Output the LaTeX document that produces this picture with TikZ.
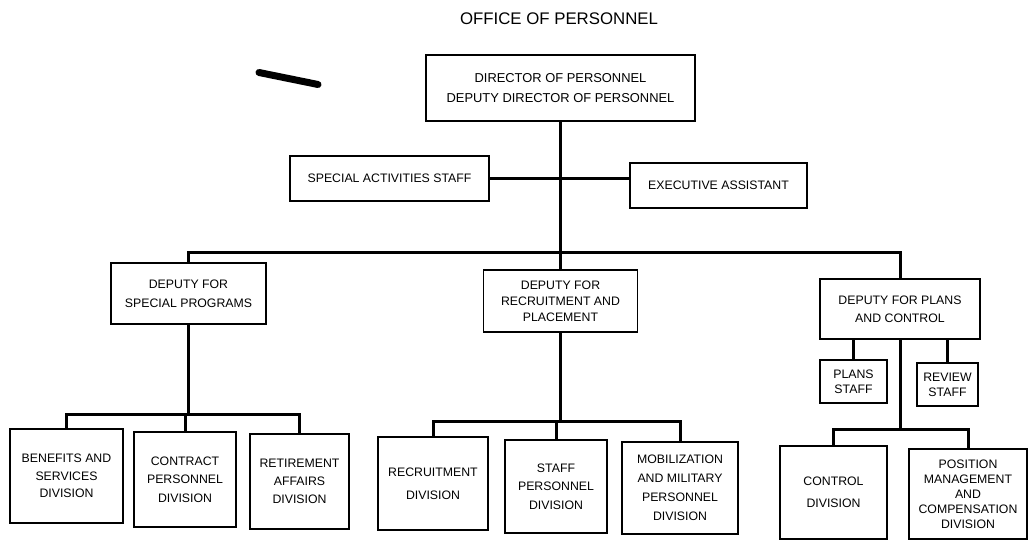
\documentclass[tikz,border=0pt]{standalone}
\usepackage{fontspec}
\setmainfont{Liberation Sans}
\begin{document}
\begin{tikzpicture}[x=1pt, y=-1pt,
  box/.style={draw, line width=1.3pt, align=center, inner sep=0pt, font=\fontsize{12.3}{#1}\selectfont},
  box/.default=17,
  dim/.style 2 args={minimum width=#1pt, minimum height=#2pt},
  link/.style={line width=3pt}]%
  \useasboundingbox (0,0) rectangle (1028,540);
  \node (t) at (559,19) {\fontsize{16.8}{20}\selectfont OFFICE OF PERSONNEL};
  \draw[line width=7pt, line cap=round] (259,72.5) -- (318,84.5);

  \node[box=20.5, dim={269}{66}, font=\fontsize{12.9}{20.5}\selectfont] (0) at (560.5,88) {DIRECTOR OF PERSONNEL\\DEPUTY DIRECTOR OF PERSONNEL};
  \node[box, dim={199}{45}] (01) at (389.5,178.5) {SPECIAL ACTIVITIES STAFF};
  \node[box, dim={177}{45}] (02) at (718.5,185.5) {EXECUTIVE ASSISTANT};
  \draw[link] (01.east) -- (01.east -| 02.west);

  \node[box=19, dim={155}{61}] (1) at (188.5,293.5) {DEPUTY FOR\\SPECIAL PROGRAMS};
  \node[box=16, dim={154}{62}] (2) at (560.5,301) {DEPUTY FOR\\RECRUITMENT AND\\PLACEMENT};
  \node[box=18, dim={160}{60}] (3) at (900,309) {DEPUTY FOR PLANS\\AND CONTROL};
  \coordinate (b0) at (560.5,252);
  \draw[link] (0) -- (2);
  \draw[link] (1) |- (b0) -| (3);

  \node[box=17.5, dim={113}{94}] (11) at (66.5,476) {BENEFITS AND\\SERVICES\\DIVISION};
  \node[box=18.5, dim={102}{95}] (12) at (185,479.5) {CONTRACT\\PERSONNEL\\DIVISION};
  \node[box=18, dim={99}{95}] (13) at (299.5,481.5) {RETIREMENT\\AFFAIRS\\DIVISION};
  \coordinate (b1) at (188.5,414);
  \draw[link] (1) -- (b1);
  \draw[link] (11) |- (b1) -| (13);
  \draw[link] (12) -- (12 |- b1);

  \node[box=23, dim={110}{93}] (21) at (433,483.5) {RECRUITMENT\\DIVISION};
  \node[box=18.5, dim={102}{93}] (22) at (556,486.5) {STAFF\\PERSONNEL\\DIVISION};
  \node[box=19, dim={116}{92}] (23) at (680,488) {MOBILIZATION\\AND MILITARY\\PERSONNEL\\DIVISION};
  \coordinate (b2) at (558,421);
  \draw[link] (2) -- (2 |- b2);
  \draw[link] (21) |- (b2) -| (23);
  \draw[link] (22) -- (22 |- b2);

  \node[box=15, dim={67}{43}] (31) at (853.5,381.5) {PLANS\\STAFF};
  \node[box=15, dim={61}{43}] (32) at (947.5,384.5) {REVIEW\\STAFF};
  \node[box=22, dim={107}{93}] (33) at (833.5,492.5) {CONTROL\\DIVISION};
  \node[box=15, dim={118}{90}] (34) at (968,494) {POSITION\\MANAGEMENT\\AND\\COMPENSATION\\DIVISION};
  \coordinate (b3) at (900,429);
  \draw[link] (31) -- (31 |- 3.south);
  \draw[link] (32) -- (32 |- 3.south);
  \draw[link] (3) -- (b3);
  \draw[link] (33) |- (b3) -| (34);
\end{tikzpicture}
\end{document}
